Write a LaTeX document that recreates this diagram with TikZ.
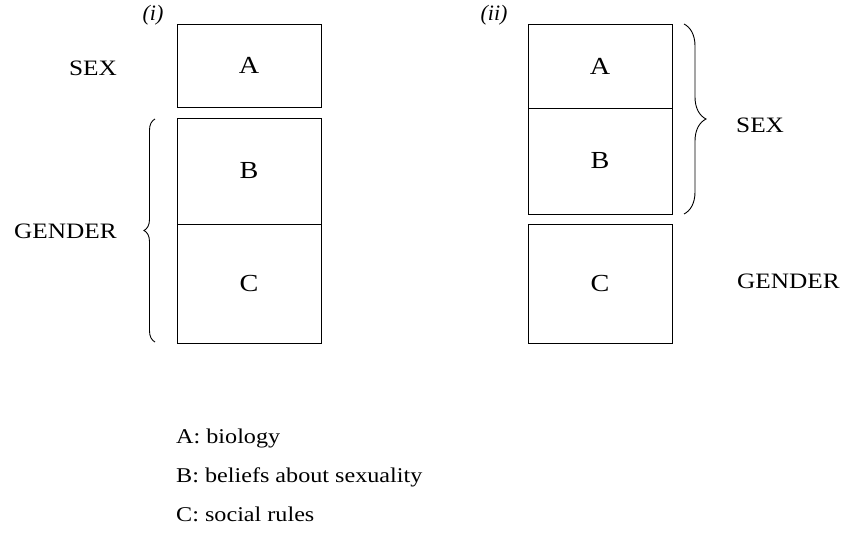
\documentclass[tikz,border=0pt]{standalone}
\usepackage{fontspec}
\setmainfont{Liberation Serif}
\newfontfamily\widefont[FakeStretch=1.15]{Liberation Serif}
\usetikzlibrary{decorations.pathreplacing}
\begin{document}
\begin{tikzpicture}[x=1pt,y=-1pt,
  box/.style={draw,line width=0.9pt,minimum width=144pt,inner sep=0pt,font=\widefont\fontsize{24.5}{28}\selectfont},
  lbl/.style={font=\widefont\fontsize{22}{26}\selectfont,inner sep=0pt},
  leg/.style={font=\widefont\fontsize{21}{25}\selectfont,inner sep=0pt,anchor=base west},
  tag/.style={font=\itshape\fontsize{22}{26}\selectfont,inner sep=0pt},
  br/.style={decorate,line width=0.9pt}]
\useasboundingbox (0,0) rectangle (849,536);
% (i)
\node[box,minimum height=83pt] (a1) at (249,65.5) {A};
\node[box,minimum height=106pt] (b1) at (249,171) {B};
\node[box,minimum height=119pt] (c1) at (249,283.5) {C};
\node[tag] (t1) at (153,15) {(i)};
\node[lbl,anchor=east] (sex1) at (117,68) {SEX};
\node[lbl,anchor=east] (gen1) at (117,231) {GENDER};
\coordinate (bl1) at (155,342);
\coordinate (bl2) at (155,119);
\draw[br,decoration={brace,amplitude=11pt}] (bl1) -- (bl2);
% (ii)
\node[box,minimum height=84pt] (a2) at (600,66) {A};
\node[box,minimum height=106pt] (b2) at (600,161) {B};
\node[box,minimum height=119pt] (c2) at (600,283.5) {C};
\node[tag] (t2) at (494,15) {(ii)};
\node[lbl,anchor=west] (sex2) at (736,125) {SEX};
\node[lbl,anchor=west] (gen2) at (737,281) {GENDER};
\coordinate (br1) at (684,24);
\coordinate (br2) at (684,214);
\draw[br,decoration={brace,amplitude=22pt}] (br1) -- (br2);
% legend
\node[leg] (la) at (176,443) {A: biology};
\node[leg] (lb) at (176,482) {B: beliefs about sexuality};
\node[leg] (lc) at (176,521) {C: social rules};
\end{tikzpicture}
\end{document}
